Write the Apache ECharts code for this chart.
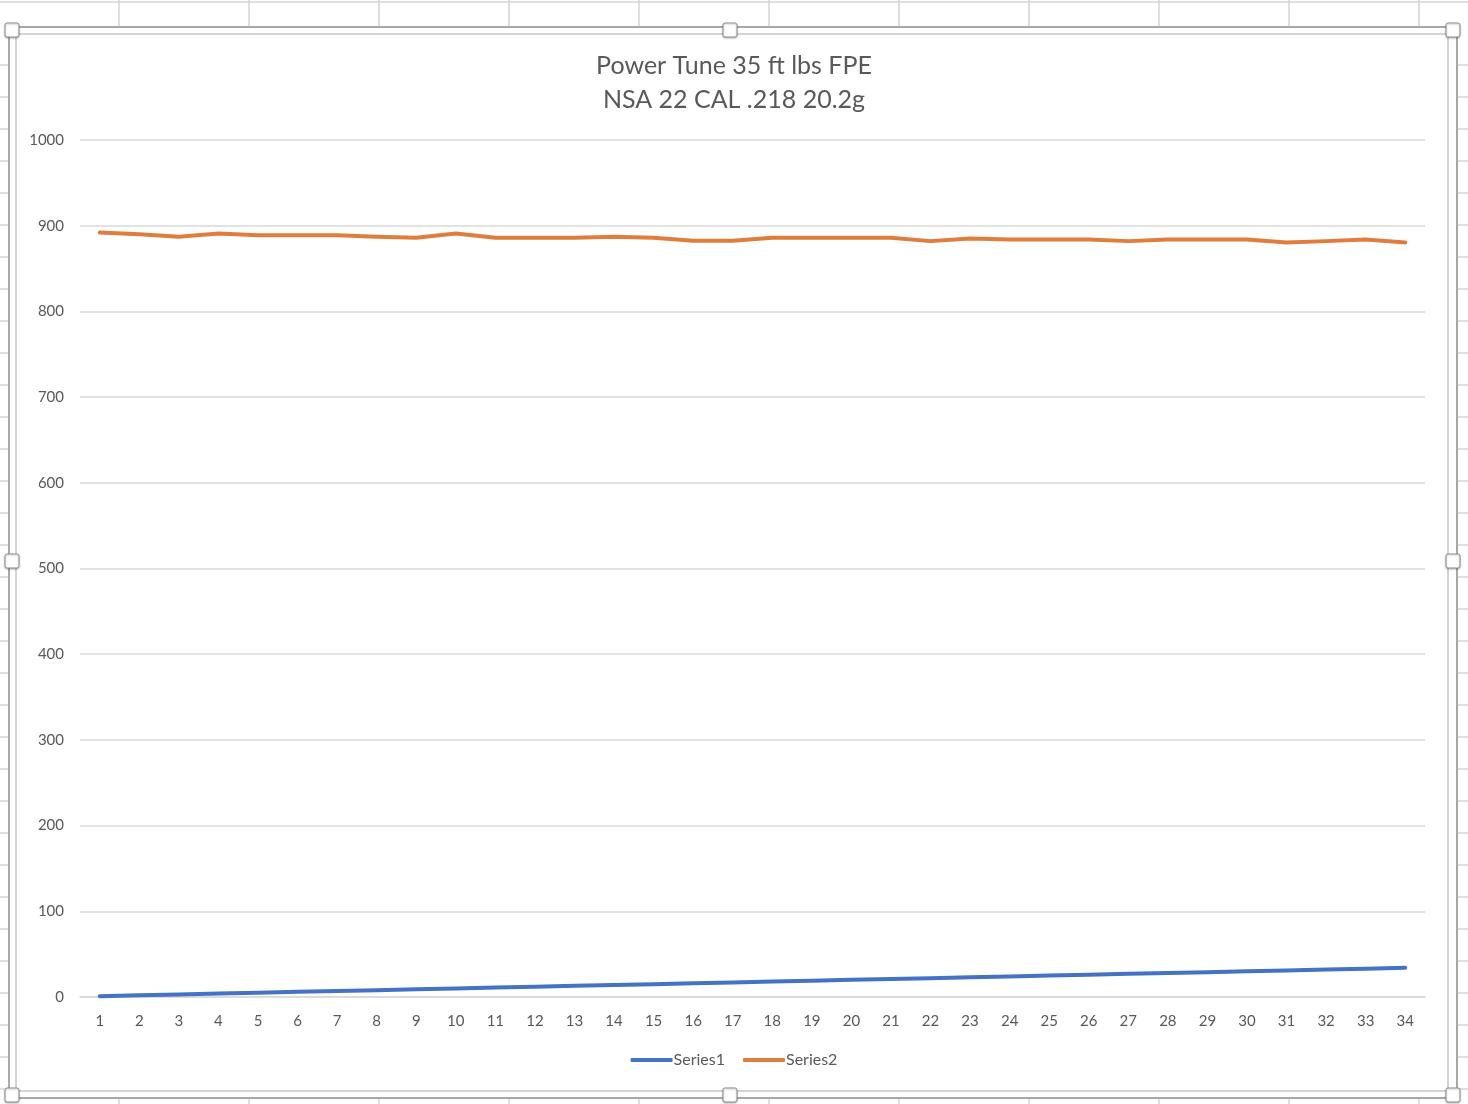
<!DOCTYPE html>
<html>
<head>
<meta charset="utf-8">
<script src="https://cdn.jsdelivr.net/npm/echarts@6/dist/echarts.min.js"></script>
<style>
html,body{margin:0;padding:0;background:#fff;}
#c{width:1468px;height:1104px;}
</style>
</head>
<body>
<div id="c"></div>
<script>
const titleLines = ['Power Tune 35 ft lbs FPE', 'NSA 22 CAL .218 20.2g'];
const categories = ['1','2','3','4','5','6','7','8','9','10','11','12','13','14','15','16','17','18','19','20','21','22','23','24','25','26','27','28','29','30','31','32','33','34'];
const series1 = [1,2,3,4,5,6,7,8,9,10,11,12,13,14,15,16,17,18,19,20,21,22,23,24,25,26,27,28,29,30,31,32,33,34];
const series2 = [892,890,887,891,889,889,889,887,886,891,886,886,886,887,886,882.5,882.5,886,886,886,886,882,885,884,884,884,882,884,884,884,880.5,882,884,880.5];
const yTicks = [0,100,200,300,400,500,600,700,800,900,1000];

const FONT = 'Lato, "Open Sans", sans-serif';
const chart = echarts.init(document.getElementById('c'), null, {renderer:'canvas'});

// decorative spreadsheet + chart frame
const g = [];
const sheet = '#d4d4d4';
g.push({type:'line', shape:{x1:0,y1:2,x2:1468,y2:2}, style:{stroke:sheet,lineWidth:1.5}, silent:true});
for (let x = 119; x < 1468; x += 130) {
  g.push({type:'line', shape:{x1:x,y1:0,x2:x,y2:27}, style:{stroke:sheet,lineWidth:1.5}, silent:true});
  g.push({type:'line', shape:{x1:x,y1:1098,x2:x,y2:1104}, style:{stroke:sheet,lineWidth:1.5}, silent:true});
}
for (let y = 65; y < 1090; y += 32) {
  g.push({type:'line', shape:{x1:0,y1:y,x2:9,y2:y}, style:{stroke:sheet,lineWidth:1.5}, silent:true});
  g.push({type:'line', shape:{x1:1457,y1:y,x2:1468,y2:y}, style:{stroke:sheet,lineWidth:1.5}, silent:true});
}
g.push({type:'rect', shape:{x:9,y:27,width:1448,height:1071}, style:{fill:null,stroke:'#a8a8a8',lineWidth:2}, silent:true});
g.push({type:'rect', shape:{x:16,y:34,width:1432,height:1057}, style:{fill:null,stroke:'#c6c6c6',lineWidth:1.5}, silent:true});
const handles = [[12,30],[730,30],[1453,30],[12,561],[1453,561],[12,1095],[730,1095],[1453,1095]];
handles.forEach(h => {
  g.push({type:'rect', shape:{x:h[0]-7,y:h[1]-7,width:14,height:14,r:2},
    style:{fill:'#fff',stroke:'#8f8f8f',lineWidth:1,shadowBlur:2,shadowColor:'rgba(0,0,0,0.25)',shadowOffsetY:1}, silent:true, z:10});
});

chart.setOption({
  backgroundColor:'#fff',
  animation:false,
  title:{
    text: titleLines.join('\n'),
    left:'center', top:44,
    textStyle:{fontFamily:FONT, fontSize:25, fontWeight:'normal', color:'#595959', lineHeight:34}
  },
  legend:{
    data:['Series1','Series2'],
    bottom:31, left:'center',
    icon:'roundRect',
    itemWidth:42, itemHeight:4, itemGap:18,
    textStyle:{fontFamily:FONT, fontSize:16, color:'#595959', padding:[0,0,0,-4]}
  },
  grid:{left:80, right:43, top:140, bottom:107, containLabel:false},
  xAxis:{
    type:'category', data:categories, boundaryGap:true,
    axisLine:{show:true, lineStyle:{color:'#d9d9d9', width:1.5}},
    axisTick:{show:false},
    axisLabel:{fontFamily:FONT, fontSize:15, color:'#595959', margin:17, interval:0}
  },
  yAxis:{
    type:'value', min:0, max:1000, interval:100,
    axisLine:{show:false}, axisTick:{show:false},
    axisLabel:{fontFamily:FONT, fontSize:15, color:'#595959', margin:16,
      formatter: v => yTicks.includes(v) ? String(v) : ''},
    splitLine:{lineStyle:{color:'#d9d9d9', width:1.5}}
  },
  series:[
    {name:'Series1', type:'line', data:series1, symbol:'none', color:'#4472C4',
      lineStyle:{width:4, cap:'round', join:'round'}},
    {name:'Series2', type:'line', data:series2, symbol:'none', color:'#E07D3C',
      lineStyle:{width:4, cap:'round', join:'round'}}
  ],
  graphic:g
});
</script>
</body>
</html>
